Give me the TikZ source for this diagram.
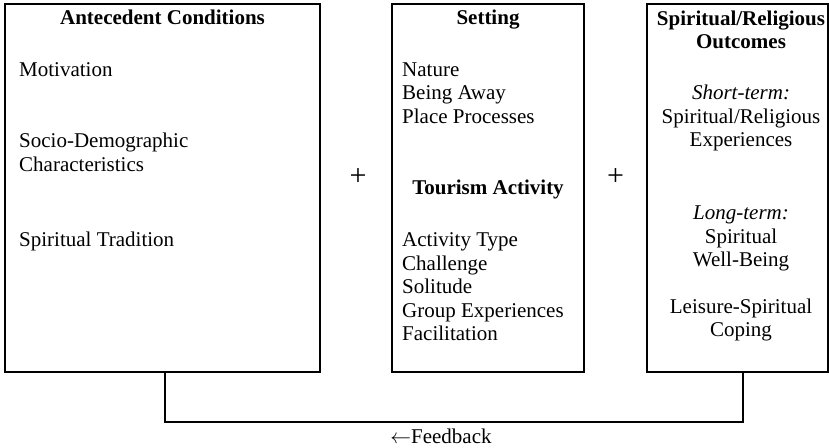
\documentclass[tikz,border=0pt]{standalone}
\usepackage{fontspec}
\setmainfont{Liberation Serif}
\begin{document}
\begin{tikzpicture}[x=1pt,y=-1pt,
  box/.style={draw, line width=1.2pt, inner sep=0pt, anchor=center},
  txt/.style={inner sep=0pt, font=\fontsize{21}{24}\selectfont},
  lt/.style={txt, anchor=base west},
  ct/.style={txt, anchor=base},
  hd/.style={ct, font=\fontsize{21}{24}\selectfont\bfseries},
  plus/.style={inner sep=0pt, font=\fontsize{30}{30}\selectfont},
  fb/.style={line width=1.2pt}]
\useasboundingbox (0,0) rectangle (829,447);

% the three columns
\node[box, minimum width=315pt, minimum height=368pt] (ac) at (162.5,188) {};
\node[box, minimum width=192pt, minimum height=368pt] (st) at (488,188) {};
\node[box, minimum width=181pt, minimum height=368pt] (so) at (737.5,188) {};

% antecedent conditions
\node[hd] (acH) at (162.5,24) {Antecedent Conditions};
\node[lt] (ac1) at (19,76) {Motivation};
\node[lt] (ac2) at (19,147.5) {Socio-Demographic};
\node[lt] (ac3) at (19,171) {Characteristics};
\node[lt] (ac4) at (19,246.5) {Spiritual Tradition};

% setting and tourism activity
\node[hd] (stH) at (488,24) {Setting};
\node[lt] (st1) at (402,76) {Nature};
\node[lt] (st2) at (402,99.5) {Being Away};
\node[lt] (st3) at (402,123) {Place Processes};
\node[hd] (taH) at (488,194) {Tourism Activity};
\node[lt] (ta1) at (402,246.5) {Activity Type};
\node[lt] (ta2) at (402,270) {Challenge};
\node[lt] (ta3) at (402,293.5) {Solitude};
\node[lt] (ta4) at (402,317) {Group Experiences};
\node[lt] (ta5) at (402,340.5) {Facilitation};

% outcomes
\node[hd] (soH1) at (741,25) {Spiritual/Religious};
\node[hd] (soH2) at (741,48) {Outcomes};
\node[ct] (so1) at (741,99.5) {\itshape Short-term:};
\node[ct] (so2) at (741,123) {Spiritual/Religious};
\node[ct] (so3) at (741,146.5) {Experiences};
\node[ct] (so4) at (741,219.5) {\itshape Long-term:};
\node[ct] (so5) at (741,243) {Spiritual};
\node[ct] (so6) at (741,266.5) {Well-Being};
\node[ct] (so7) at (741,313) {Leisure-Spiritual};
\node[ct] (so8) at (741,336.5) {Coping};

% plus signs between the columns
\node[plus] (p1) at (358,177) {+};
\node[plus] (p2) at (615.5,177) {+};

% feedback loop
\coordinate (fbL) at (165,422);
\coordinate (fbR) at (743,422);
\draw[fb] (ac.south -| fbL) -- (fbL) -- (fbR) -- (so.south -| fbR);
\node[ct] (fbT) at (441,443) {$\leftarrow$Feedback};
\end{tikzpicture}
\end{document}
